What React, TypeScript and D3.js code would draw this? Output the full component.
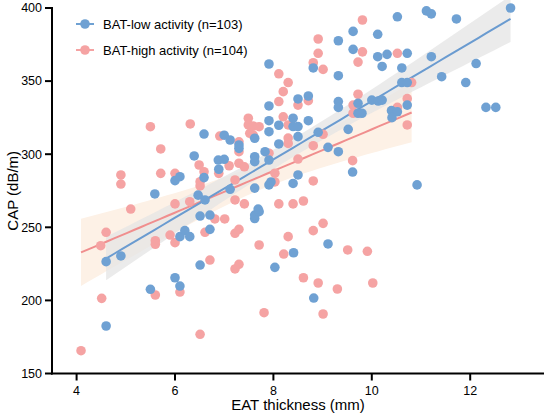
import * as d3 from "d3";

type Pt = [number, number];

// BAT-low activity: [EAT thickness (mm), CAP (dB/m)]
const lowPts: Pt[] = [
  [12.82, 400], [11.11, 398], [11.21, 396], [11.72, 392.5], [10.52, 394],
  [9.62, 384], [10.12, 382], [9.32, 377.6], [9.62, 371.7], [10.12, 366.7],
  [10.31, 368.3], [10.72, 369], [10.21, 360], [10.61, 359], [11.21, 366.7],
  [12.12, 362], [11.42, 353], [11.91, 349], [10.61, 349], [10.72, 349],
  [8.81, 359], [9.32, 353.7], [8.5, 337.8], [8.71, 339.8], [9.32, 336],
  [9.32, 332], [9.72, 334.8], [10.0, 337], [10.13, 336.4], [10.21, 337],
  [9.72, 328], [9.8, 328], [10.72, 333.6], [10.4, 329.8], [10.52, 329],
  [10.41, 325], [12.32, 332], [12.52, 332], [8.11, 319.8], [8.4, 324.6],
  [8.4, 318.9], [8.5, 318.9], [8.71, 322.9], [8.5, 312], [8.11, 307],
  [8.91, 315], [9.52, 317], [9.11, 304.7], [9.32, 301.7], [9.61, 287.8],
  [8.5, 285.8], [8.4, 280], [10.92, 279], [9.11, 238.6], [8.41, 232.6],
  [8.03, 222.6], [8.82, 201.6], [4.6, 226.5], [4.9, 230.4], [4.6, 182.5],
  [5.5, 207.6], [6.0, 215.5], [6.1, 209.8], [6.1, 243.6], [6.2, 247.7],
  [6.3, 243.6], [6.51, 257.7], [6.71, 258.4], [6.71, 248.6], [6.51, 224.2],
  [6.61, 268.7], [7.62, 256], [7.62, 258.4], [7.71, 260.7], [7.91, 361.7],
  [7.91, 333], [7.91, 322.9], [7.91, 315.4], [7.83, 301.7], [7.91, 296],
  [7.91, 279], [7.95, 281], [7.62, 310.9], [7.62, 298.3], [7.62, 294.9],
  [7.62, 276.8], [7.69, 262.5], [7.0, 313], [7.12, 309.7], [7.3, 306.3],
  [7.3, 304], [6.88, 296], [7.0, 296.5], [6.89, 289.7], [6.59, 313.8],
  [6.39, 298.8], [6.59, 284], [6.47, 272], [6.0, 281.9], [6.1, 284.6],
  [5.59, 272.8], [7.12, 276],
];

// BAT-high activity
const highPts: Pt[] = [
  [9.81, 391.8], [8.91, 378.8], [8.91, 369], [9.81, 370], [10.52, 369],
  [9.72, 363], [8.81, 362.6], [9.01, 358], [8.11, 355], [8.3, 349],
  [8.2, 342.8], [8.11, 336], [8.5, 333.6], [8.71, 336.6], [9.72, 341],
  [9.62, 333.6], [9.62, 328], [10.72, 338], [10.52, 332], [10.81, 349],
  [10.72, 320], [8.2, 325.6], [8.3, 320], [8.3, 311], [8.3, 307.4],
  [9.01, 313.6], [8.81, 305.8], [8.5, 296.7], [9.61, 295.6], [8.03, 287],
  [8.03, 281], [8.81, 281.7], [8.11, 266], [8.4, 266], [8.61, 268],
  [9.01, 252.7], [8.81, 247.7], [8.3, 243.6], [8.21, 231.7], [9.51, 234.5],
  [9.91, 233.6], [8.61, 215.5], [8.91, 211.9], [9.3, 207.8], [10.02, 211.9],
  [9.01, 190.7], [4.09, 165.6], [4.51, 201.4], [4.49, 237.4], [4.6, 246.6],
  [5.1, 262.5], [5.6, 240.8], [5.6, 238.4], [5.6, 203.7], [5.9, 244.7],
  [6.0, 239.5], [6.0, 266], [6.3, 267.5], [6.1, 205.7], [6.51, 176.8],
  [6.61, 246.6], [6.71, 227.6], [6.81, 255.7], [7.01, 255.7], [7.22, 268.7],
  [7.22, 245.9], [7.3, 248.6], [7.22, 221.5], [7.3, 224.7], [7.41, 266],
  [7.71, 237.9], [7.81, 191.6], [5.5, 318.8], [6.31, 320.7], [5.71, 303.6],
  [5.71, 286.9], [4.9, 285.8], [4.9, 279.6], [6.0, 286.9], [6.49, 292.6],
  [6.59, 288], [6.51, 281.2], [6.51, 278.3], [6.89, 286.9], [7.1, 292.1],
  [6.91, 312.4], [7.3, 308.5], [7.3, 301.7], [7.3, 293.8], [7.41, 291.4],
  [7.22, 282.4], [7.49, 324.6], [7.49, 320], [7.59, 319.3], [7.71, 318.8],
  [7.52, 314.3], [7.59, 313.1], [7.91, 300.7],
];

const legendLabels = ["BAT-low activity (n=103)", "BAT-high activity (n=104)"];
const xTicks = [4, 6, 8, 10, 12];
const yTicks = [150, 200, 250, 300, 350, 400];

const W = 550;
const H = 419;
const FONT = "Liberation Sans, Arial, Helvetica, sans-serif";
const BLUE = "#6fa1d3";
const RED = "#f5a3a3";

// least squares fit with 95% confidence band
function fit(pts: Pt[]) {
  const n = pts.length;
  const mx = d3.mean(pts, (p) => p[0])!;
  const my = d3.mean(pts, (p) => p[1])!;
  const sxx = d3.sum(pts, (p) => (p[0] - mx) ** 2);
  const sxy = d3.sum(pts, (p) => (p[0] - mx) * (p[1] - my));
  const b = sxy / sxx;
  const a = my - b * mx;
  const s = Math.sqrt(d3.sum(pts, (p) => (p[1] - a - b * p[0]) ** 2) / (n - 2));
  const t = 1.984;
  const [x0, x1] = d3.extent(pts, (p) => p[0]) as [number, number];
  const xs = d3.range(0, 51).map((i) => x0 + ((x1 - x0) * i) / 50);
  const band = xs.map((x) => {
    const yh = a + b * x;
    const se = s * Math.sqrt(1 / n + (x - mx) ** 2 / sxx);
    return { x, y: yh, lo: yh - t * se, hi: yh + t * se };
  });
  return band;
}

export default function App() {
  const margin = { left: 52, top: 8, right: 5, bottom: 45 };
  const x = d3.scaleLinear().domain([3.5, 13.5]).range([52, 544]);
  const y = d3.scaleLinear().domain([150, 400]).range([373.5, 8]);

  const area = d3
    .area<{ x: number; lo: number; hi: number }>()
    .x((d) => x(d.x))
    .y0((d) => y(d.lo))
    .y1((d) => y(d.hi));
  const line = d3
    .line<{ x: number; y: number }>()
    .x((d) => x(d.x))
    .y((d) => y(d.y));

  const lowFit = fit(lowPts);
  const highFit = fit(highPts);
  const x0 = margin.left;
  const yBase = y(150);

  return (
    <svg
      width={W}
      height={H}
      style={{ position: "absolute", left: 0, top: 0, background: "#fff" }}
      fontFamily={FONT}
    >
      <path d={area(highFit)!} fill="#fdf1e6" />
      <path d={area(lowFit)!} fill="#e4e4e4" opacity={0.75} />
      <path d={line(highFit)!} fill="none" stroke="#f08e8e" strokeWidth={2} />
      <path d={line(lowFit)!} fill="none" stroke="#6a9bd0" strokeWidth={2} />

      {highPts.map((p, i) => (
        <circle key={"h" + i} cx={x(p[0])} cy={y(p[1])} r={4.8} fill={RED} />
      ))}
      {lowPts.map((p, i) => (
        <circle key={"l" + i} cx={x(p[0])} cy={y(p[1])} r={4.8} fill={BLUE} />
      ))}

      {/* axes */}
      <line x1={x0} x2={x0} y1={y(400) - 1} y2={yBase + 1} stroke="#000" strokeWidth={2} />
      <line x1={x0 - 1} x2={x.range()[1]} y1={yBase} y2={yBase} stroke="#000" strokeWidth={2} />
      {yTicks.map((t) => (
        <g key={"y" + t}>
          <line x1={x0 - 7} x2={x0} y1={y(t)} y2={y(t)} stroke="#000" strokeWidth={2} />
          <text x={x0 - 10} y={y(t)} dy="0.35em" textAnchor="end" fontSize={12.5}>
            {t}
          </text>
        </g>
      ))}
      {xTicks.map((t) => (
        <g key={"x" + t}>
          <line x1={x(t)} x2={x(t)} y1={yBase} y2={yBase + 7} stroke="#000" strokeWidth={2} />
          <text x={x(t)} y={yBase + 21} textAnchor="middle" fontSize={12.5}>
            {t}
          </text>
        </g>
      ))}
      <text x={(x0 + x.range()[1]) / 2} y={410} textAnchor="middle" fontSize={15}>
        EAT thickness (mm)
      </text>
      <text
        transform={`translate(18, ${(y(400) + yBase) / 2}) rotate(-90)`}
        textAnchor="middle"
        fontSize={15}
      >
        CAP (dB/m)
      </text>

      {/* legend */}
      {legendLabels.map((lab, i) => {
        const ly = 24 + i * 26;
        const c = i === 0 ? BLUE : RED;
        return (
          <g key={lab}>
            <line x1={76} x2={94} y1={ly} y2={ly} stroke={c} strokeWidth={2} />
            <circle cx={85} cy={ly} r={4.8} fill={c} />
            <text x={103} y={ly} dy="0.35em" fontSize={13}>
              {lab}
            </text>
          </g>
        );
      })}
    </svg>
  );
}
